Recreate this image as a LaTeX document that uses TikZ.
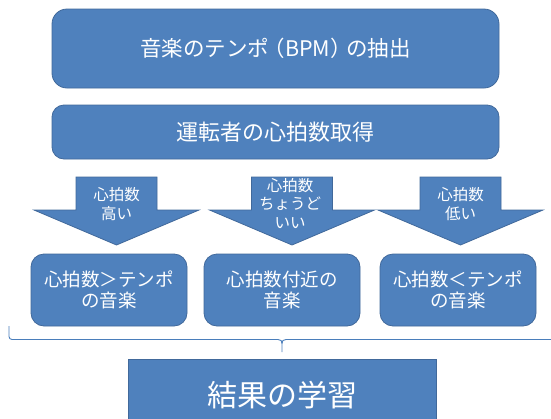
\documentclass[tikz,border=0pt]{standalone}
\usepackage{fontspec}
\setmainfont{Noto Sans CJK JP}
\definecolor{boxfill}{HTML}{4F81BD}
\definecolor{boxline}{HTML}{41699B}
\definecolor{bracecol}{HTML}{4A7EBB}
\begin{document}
\begin{tikzpicture}[x=1pt,y=-1pt,
  blk/.style={fill=boxfill,draw=boxline,line width=0.8pt,text=white,align=center,inner sep=0pt},
  arrowshape/.style={fill=boxfill,draw=boxline,line width=0.8pt},
  arrowlbl/.style={text=white,align=center,inner sep=0pt,font=\fontsize{15.5}{18.5}\selectfont},
  rowbox/.style={blk,rounded corners=13pt,minimum width=156pt,minimum height=72pt,font=\fontsize{18.5}{21}\selectfont},
  bracepath/.style={draw=bracecol,line width=0.9pt}]
\clip (0,0) rectangle (551,418);
\fill[white] (0,0) rectangle (551,418);

% top boxes
\node[blk,rounded corners=15pt,minimum width=447pt,minimum height=79pt,
      font=\fontsize{21.5}{26}\selectfont] (bpm) at (275.5,48.5) {音楽のテンポ\hspace{-0.25em}（BPM）\hspace{-0.25em}の抽出};
\node[blk,rounded corners=12pt,minimum width=447pt,minimum height=54pt,
      font=\fontsize{22}{26}\selectfont] (hr) at (275.5,132) {運転者の心拍数取得};

% down arrows
\foreach \c/\nm in {116.5/arrL,292/arrM,460.5/arrR}{
  \path[arrowshape] (\c-40.5,177) -- (\c+40.5,177) -- (\c+40.5,210) -- (\c+82.5,210)
     -- (\c,245) -- (\c-82.5,210) -- (\c-40.5,210) -- cycle;
  \coordinate (\nm) at (\c,0);
}
\node[arrowlbl] (lblL) at (116.5,204) {心拍数\\高い};
\node[arrowlbl] (lblM) at (290,203.5) {心拍数\\ちょうど\\いい};
\node[arrowlbl] (lblR) at (460.5,204) {心拍数\\低い};

% result boxes
\node[rowbox] (high) at (109,290) {心拍数＞テンポ\\の音楽};
\node[rowbox] (near) at (282,290) {心拍数付近の\\音楽};
\node[rowbox] (low)  at (458,290) {心拍数＜テンポ\\の音楽};

% bottom box
\node[blk,minimum width=308pt,minimum height=72pt,
      font=\fontsize{30}{34}\selectfont] (learn) at (282,395) {結果の学習};

% brace
\coordinate (bl) at (9,326);
\coordinate (br) at (560,339.5);
\coordinate (bt) at (282,352);
\draw[bracepath,rounded corners=3pt] (bl) -- (9,339.5) -- (278,339.5);
\draw[bracepath] (278,339.5) .. controls (281,339.5) and (282,341) .. (282,343.5) -- (bt);
\draw[bracepath] (br) -- (286,339.5) .. controls (283,339.5) and (282,341) .. (282,343.5);
\end{tikzpicture}
\end{document}
